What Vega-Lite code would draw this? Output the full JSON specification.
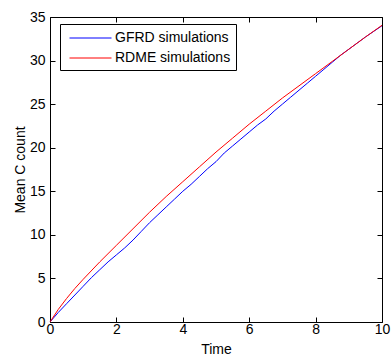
{
  "$schema": "https://vega.github.io/schema/vega-lite/v6.json",
  "width": 332,
  "height": 305,
  "autosize": "none",
  "padding": {"left": 50, "top": 17, "right": 9, "bottom": 36},
  "background": "white",
  "config": {
    "view": {"stroke": "black", "strokeWidth": 1},
    "font": "Liberation Sans",
    "axis": {
      "grid": false,
      "domain": false,
      "ticks": true,
      "tickColor": "#000000",
      "tickOpacity": 1,
      "tickWidth": 1,
      "tickSize": 5,
      "offset": -5,
      "labelColor": "black",
      "labelFontSize": 14,
      "labelFont": "Liberation Sans",
      "labelFlush": false,
      "labelOverlap": false,
      "titleFont": "Liberation Sans",
      "titleFontSize": 14,
      "titleFontWeight": "normal",
      "titleColor": "black",
      "zindex": 1
    }
  },
  "data": {
    "values": [
      {"t": 0, "v": 0, "series": "GFRD simulations"},
      {"t": 0.25, "v": 1.1, "series": "GFRD simulations"},
      {"t": 0.5, "v": 2.1, "series": "GFRD simulations"},
      {"t": 0.75, "v": 3.1, "series": "GFRD simulations"},
      {"t": 1, "v": 4.1, "series": "GFRD simulations"},
      {"t": 1.25, "v": 5.1, "series": "GFRD simulations"},
      {"t": 1.5, "v": 6.0, "series": "GFRD simulations"},
      {"t": 1.75, "v": 6.9, "series": "GFRD simulations"},
      {"t": 2, "v": 7.7, "series": "GFRD simulations"},
      {"t": 2.25, "v": 8.5, "series": "GFRD simulations"},
      {"t": 2.5, "v": 9.4, "series": "GFRD simulations"},
      {"t": 2.75, "v": 10.4, "series": "GFRD simulations"},
      {"t": 3, "v": 11.4, "series": "GFRD simulations"},
      {"t": 3.25, "v": 12.3, "series": "GFRD simulations"},
      {"t": 3.5, "v": 13.2, "series": "GFRD simulations"},
      {"t": 3.75, "v": 14.1, "series": "GFRD simulations"},
      {"t": 4, "v": 15.0, "series": "GFRD simulations"},
      {"t": 4.25, "v": 15.8, "series": "GFRD simulations"},
      {"t": 4.5, "v": 16.7, "series": "GFRD simulations"},
      {"t": 4.75, "v": 17.6, "series": "GFRD simulations"},
      {"t": 5, "v": 18.4, "series": "GFRD simulations"},
      {"t": 5.25, "v": 19.4, "series": "GFRD simulations"},
      {"t": 5.5, "v": 20.2, "series": "GFRD simulations"},
      {"t": 5.75, "v": 21.0, "series": "GFRD simulations"},
      {"t": 6, "v": 21.8, "series": "GFRD simulations"},
      {"t": 6.25, "v": 22.6, "series": "GFRD simulations"},
      {"t": 6.5, "v": 23.3, "series": "GFRD simulations"},
      {"t": 6.75, "v": 24.2, "series": "GFRD simulations"},
      {"t": 7, "v": 25.0, "series": "GFRD simulations"},
      {"t": 7.25, "v": 25.8, "series": "GFRD simulations"},
      {"t": 7.5, "v": 26.6, "series": "GFRD simulations"},
      {"t": 7.75, "v": 27.4, "series": "GFRD simulations"},
      {"t": 8, "v": 28.2, "series": "GFRD simulations"},
      {"t": 8.25, "v": 29.0, "series": "GFRD simulations"},
      {"t": 8.5, "v": 29.8, "series": "GFRD simulations"},
      {"t": 8.75, "v": 30.6, "series": "GFRD simulations"},
      {"t": 9, "v": 31.3, "series": "GFRD simulations"},
      {"t": 9.25, "v": 32.0, "series": "GFRD simulations"},
      {"t": 9.5, "v": 32.7, "series": "GFRD simulations"},
      {"t": 9.75, "v": 33.35, "series": "GFRD simulations"},
      {"t": 10, "v": 34.0, "series": "GFRD simulations"},
      {"t": 0, "v": 0, "series": "RDME simulations"},
      {"t": 0.25, "v": 1.45, "series": "RDME simulations"},
      {"t": 0.5, "v": 2.7, "series": "RDME simulations"},
      {"t": 0.75, "v": 3.85, "series": "RDME simulations"},
      {"t": 1, "v": 4.9, "series": "RDME simulations"},
      {"t": 1.5, "v": 6.9, "series": "RDME simulations"},
      {"t": 2, "v": 8.8, "series": "RDME simulations"},
      {"t": 2.5, "v": 10.7, "series": "RDME simulations"},
      {"t": 3, "v": 12.6, "series": "RDME simulations"},
      {"t": 3.5, "v": 14.4, "series": "RDME simulations"},
      {"t": 4, "v": 16.1, "series": "RDME simulations"},
      {"t": 4.5, "v": 17.8, "series": "RDME simulations"},
      {"t": 5, "v": 19.5, "series": "RDME simulations"},
      {"t": 5.5, "v": 21.1, "series": "RDME simulations"},
      {"t": 6, "v": 22.7, "series": "RDME simulations"},
      {"t": 6.5, "v": 24.2, "series": "RDME simulations"},
      {"t": 7, "v": 25.7, "series": "RDME simulations"},
      {"t": 7.5, "v": 27.1, "series": "RDME simulations"},
      {"t": 8, "v": 28.5, "series": "RDME simulations"},
      {"t": 8.5, "v": 29.9, "series": "RDME simulations"},
      {"t": 9, "v": 31.3, "series": "RDME simulations"},
      {"t": 9.5, "v": 32.7, "series": "RDME simulations"},
      {"t": 10, "v": 34.05, "series": "RDME simulations"}
    ]
  },
  "layer": [
    {
      "mark": {"type": "line", "strokeWidth": 1, "interpolate": "linear"},
      "encoding": {
        "x": {
          "field": "t", "type": "quantitative",
          "scale": {"domain": [0, 10], "nice": false},
          "axis": {"title": "Time", "values": [0, 2, 4, 6, 8, 10], "orient": "bottom", "labelPadding": 0, "titlePadding": 6, "ticks": true, "tickColor": "black", "tickSize": 5}
        },
        "y": {
          "field": "v", "type": "quantitative",
          "scale": {"domain": [0, 35], "nice": false},
          "axis": {"title": "Mean C count", "values": [0, 5, 10, 15, 20, 25, 30, 35], "orient": "left", "labelPadding": 5, "titlePadding": 2, "ticks": true, "tickColor": "black", "tickSize": 5}
        },
        "color": {
          "field": "series", "type": "nominal",
          "scale": {"domain": ["GFRD simulations", "RDME simulations"], "range": ["#0000ff", "#ff0000"]},
          "legend": {
            "title": null,
            "orient": "none",
            "legendX": 10,
            "legendY": 7,
            "direction": "vertical",
            "strokeColor": "black",
            "fillColor": "white",
            "padding": 5,
            "symbolType": "M-0.5,0.0625H4.75",
            "symbolSize": 256,
            "symbolStrokeWidth": 1,
            "symbolFillColor": "transparent",
            "labelFontSize": 14,
            "labelFont": "Liberation Sans",
            "labelColor": "black",
            "labelOffset": 33,
            "rowPadding": 4,
            "encode": {
              "symbols": {
                "update": {
                  "stroke": {"field": "value", "scale": "color"},
                  "fill": {"value": "transparent"},
                  "strokeWidth": {"value": 1}
                }
              }
            }
          }
        }
      }
    },
    {
      "mark": {"type": "line", "opacity": 0},
      "encoding": {
        "x": {
          "field": "t", "type": "quantitative",
          "axis": {"title": null, "values": [0, 2, 4, 6, 8, 10], "orient": "top", "labels": false, "ticks": true, "tickColor": "black", "tickSize": 5}
        },
        "y": {
          "field": "v", "type": "quantitative",
          "axis": {"title": null, "values": [0, 5, 10, 15, 20, 25, 30, 35], "orient": "right", "labels": false, "ticks": true, "tickColor": "black", "tickSize": 5}
        },
        "detail": {"field": "series"}
      }
    }
  ],
  "resolve": {"axis": {"x": "independent", "y": "independent"}}
}
